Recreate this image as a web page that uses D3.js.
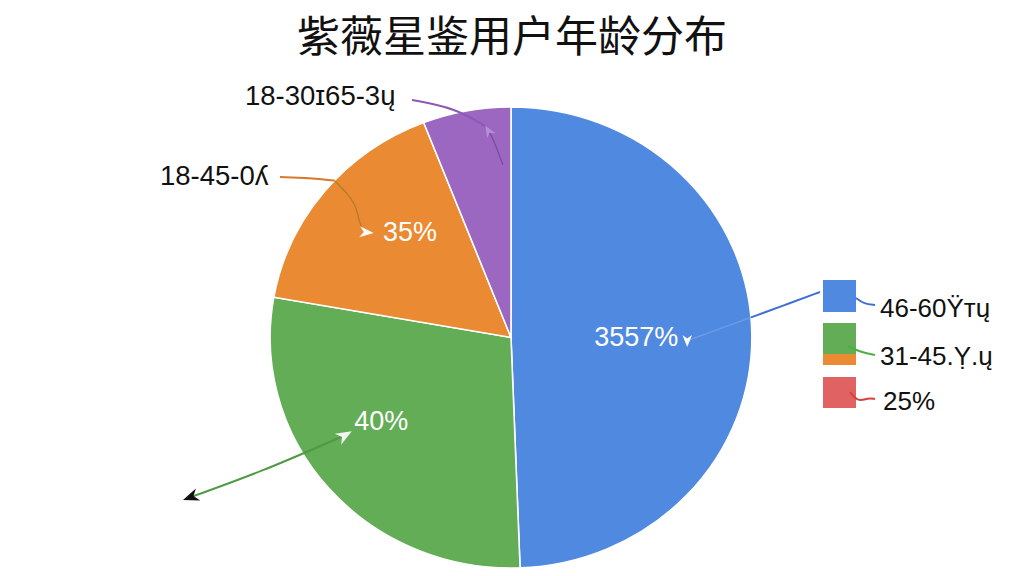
<!DOCTYPE html>
<html>
<head>
<meta charset="utf-8">
<script src="https://cdn.jsdelivr.net/npm/d3@7"></script>
<style>
  body { margin: 0; background: #fff; }
  svg { display: block; }
</style>
</head>
<body>
<script>
const width = 1024;
const height = 576;

// slices, clockwise from 12 o'clock
const sliceNames = ["46-60", "31-45", "18-45", "18-30"];
const sliceValues = [49.4, 28.4, 16.3, 5.9];
const sliceColors = ["#5089e0", "#62ad56", "#ea8a32", "#9c67c0"];
const innerLabels = ["3557%", "40%", "35%"];
const outerLabels = ["18-45-0ʎ", "18-30ɪ65-3ų"];
const legendLabels = ["46-60Ÿтų", "31-45.Ỵ.ų", "25%"];
const legendColors = ["#5089e0", "#62ad56", "#e06262"];

const svg = d3.select("body").append("svg")
  .attr("width", width).attr("height", height)
  .attr("viewBox", `0 0 ${width} ${height}`);

const cx = 511, cy = 337.5, r = 230.5, sx = 1.045;

// point on the (slightly stretched) pie, angle in degrees clockwise from top
const polar = (deg, f) => {
  const a = deg * Math.PI / 180;
  return [cx + sx * r * f * Math.sin(a), cy - r * f * Math.cos(a)];
};

const pie = d3.pie().sort(null).value(d => d);
const arcs = pie(sliceValues);
const arc = d3.arc().innerRadius(0).outerRadius(r);

svg.append("text")
  .attr("x", width / 2).attr("y", 52)
  .attr("text-anchor", "middle")
  .style("font-family", "'Noto Sans CJK SC', sans-serif")
  .style("font-size", "43px").style("font-weight", 400)
  .style("fill", "#111")
  .text("紫薇星鉴用户年龄分布");

const g = svg.append("g")
  .attr("transform", `translate(${cx},${cy}) scale(${sx},1)`);

g.selectAll("path")
  .data(arcs)
  .enter()
  .append("path")
  .attr("d", arc)
  .style("fill", (d, i) => sliceColors[i])
  .style("stroke", "#fff")
  .style("stroke-width", 1.5);

// inner percentage labels
const labelFrac = [0.52, 0.65, 0.62];
const midDeg = d => (d.startAngle + d.endAngle) / 2 * 180 / Math.PI;
const labelDeg = [midDeg(arcs[0]) + 1, midDeg(arcs[1]) + 7, midDeg(arcs[2]) + 8];

svg.append("g")
  .selectAll("text")
  .data(innerLabels)
  .enter()
  .append("text")
  .attr("x", (d, i) => polar(labelDeg[i], labelFrac[i])[0])
  .attr("y", (d, i) => polar(labelDeg[i], labelFrac[i])[1])
  .attr("text-anchor", "middle").attr("dominant-baseline", "central")
  .style("font-family", "'Liberation Sans', Arial, sans-serif")
  .style("font-size", "27px")
  .style("fill", "#fff")
  .text(d => d);

const line = d3.line().curve(d3.curveBasis);

const arrow = (p, deg, fill, s) => {
  svg.append("path")
    .attr("d", `M${s},0 L${-s},${-s * 0.8} L${-s * 0.4},0 L${-s},${s * 0.8} Z`)
    .attr("transform", `translate(${p[0]},${p[1]}) rotate(${deg})`)
    .style("fill", fill);
};

// outer labels
const outer = [
  { text: outerLabels[0], x: 160, y: 175 },
  { text: outerLabels[1], x: 245, y: 95 }
];
svg.append("g")
  .selectAll("text")
  .data(outer)
  .enter()
  .append("text")
  .attr("x", d => d.x).attr("y", d => d.y)
  .attr("dominant-baseline", "central")
  .style("font-family", "'Liberation Sans', Arial, sans-serif")
  .style("font-size", "27.5px")
  .style("fill", "#111")
  .text(d => d.text);

// orange leader
const oRim = polar(312.9, 1.0);
const oEnd = polar(306.9, 0.76);
svg.append("path")
  .attr("d", line([[280, 177], [310, 178], oRim]))
  .style("fill", "none").style("stroke", "#d9772a").style("stroke-width", 2);
svg.append("path")
  .attr("d", line([oRim, [oRim[0] + 22, oRim[1] + 22], [oEnd[0] - 6, oEnd[1] - 10], oEnd]))
  .style("fill", "none").style("stroke", "#b8782e").style("stroke-width", 1.3);
arrow([oEnd[0] + 2, oEnd[1]], 5, "#fff", 7);

// purple leader
const pRim = polar(353.6, 0.92);
const pEnd = polar(357.4, 0.75);
svg.append("path")
  .attr("d", line([[412, 100], [455, 108], pRim]))
  .style("fill", "none").style("stroke", "#8c58b6").style("stroke-width", 2);
svg.append("path")
  .attr("d", line([pRim, [pRim[0] + 8, pRim[1] + 14], pEnd]))
  .style("fill", "none").style("stroke", "#7d4aa6").style("stroke-width", 1.3);
arrow([pRim[0] + 2, pRim[1] + 4], 240, "#b58fd6", 6);

// green leader
const gIn = polar(238.4, 0.81);
const gOut = polar(242.5, 1.5);
svg.append("path")
  .attr("d", line([gOut, [gOut[0] + 70, gOut[1] - 25], gIn]))
  .style("fill", "none").style("stroke", "#4e9a45").style("stroke-width", 2);
arrow(gOut, 160, "#111", 8);
arrow(gIn, -30, "#f4f4f4", 8);

// legend
const legendY = [280, 323, 377];
const legendH = [32, 42, 31];
const lg = svg.append("g");
lg.selectAll("rect")
  .data(legendColors)
  .enter()
  .append("rect")
  .attr("x", 823).attr("y", (d, i) => legendY[i])
  .attr("width", 33).attr("height", (d, i) => legendH[i])
  .style("fill", d => d);
lg.append("rect")
  .attr("x", 823).attr("y", 354).attr("width", 33).attr("height", 11)
  .style("fill", sliceColors[2]);

lg.selectAll("text")
  .data(legendLabels)
  .enter()
  .append("text")
  .attr("x", (d, i) => i === 2 ? 883 : 880)
  .attr("y", (d, i) => [308, 356, 401][i])
  .attr("dominant-baseline", "central")
  .style("font-family", "'Liberation Sans', Arial, sans-serif")
  .style("font-size", "26px")
  .style("fill", "#111")
  .text(d => d);

// legend connectors
const bRim = polar(85, 1.0);
const bEnd = polar(90.8, 0.74);
svg.append("path")
  .attr("d", line([[820, 292], [785, 305], bRim]))
  .style("fill", "none").style("stroke", "#3d6fd4").style("stroke-width", 2);
svg.append("path")
  .attr("d", line([bRim, bEnd]))
  .style("fill", "none").style("stroke", "#6d9ce6").style("stroke-width", 1.5);
arrow([bEnd[0] - 2, bEnd[1] + 1], 90, "#fff", 6);

svg.append("path")
  .attr("d", line([[856, 298], [864, 304], [875, 305]]))
  .style("fill", "none").style("stroke", "#3d6fd4").style("stroke-width", 2);
svg.append("path")
  .attr("d", line([[848, 346], [860, 352], [875, 355]]))
  .style("fill", "none").style("stroke", "#4fae45").style("stroke-width", 2);
svg.append("path")
  .attr("d", line([[850, 392], [858, 402], [868, 398], [875, 399]]))
  .style("fill", "none").style("stroke", "#d84040").style("stroke-width", 2);
</script>
</body>
</html>
